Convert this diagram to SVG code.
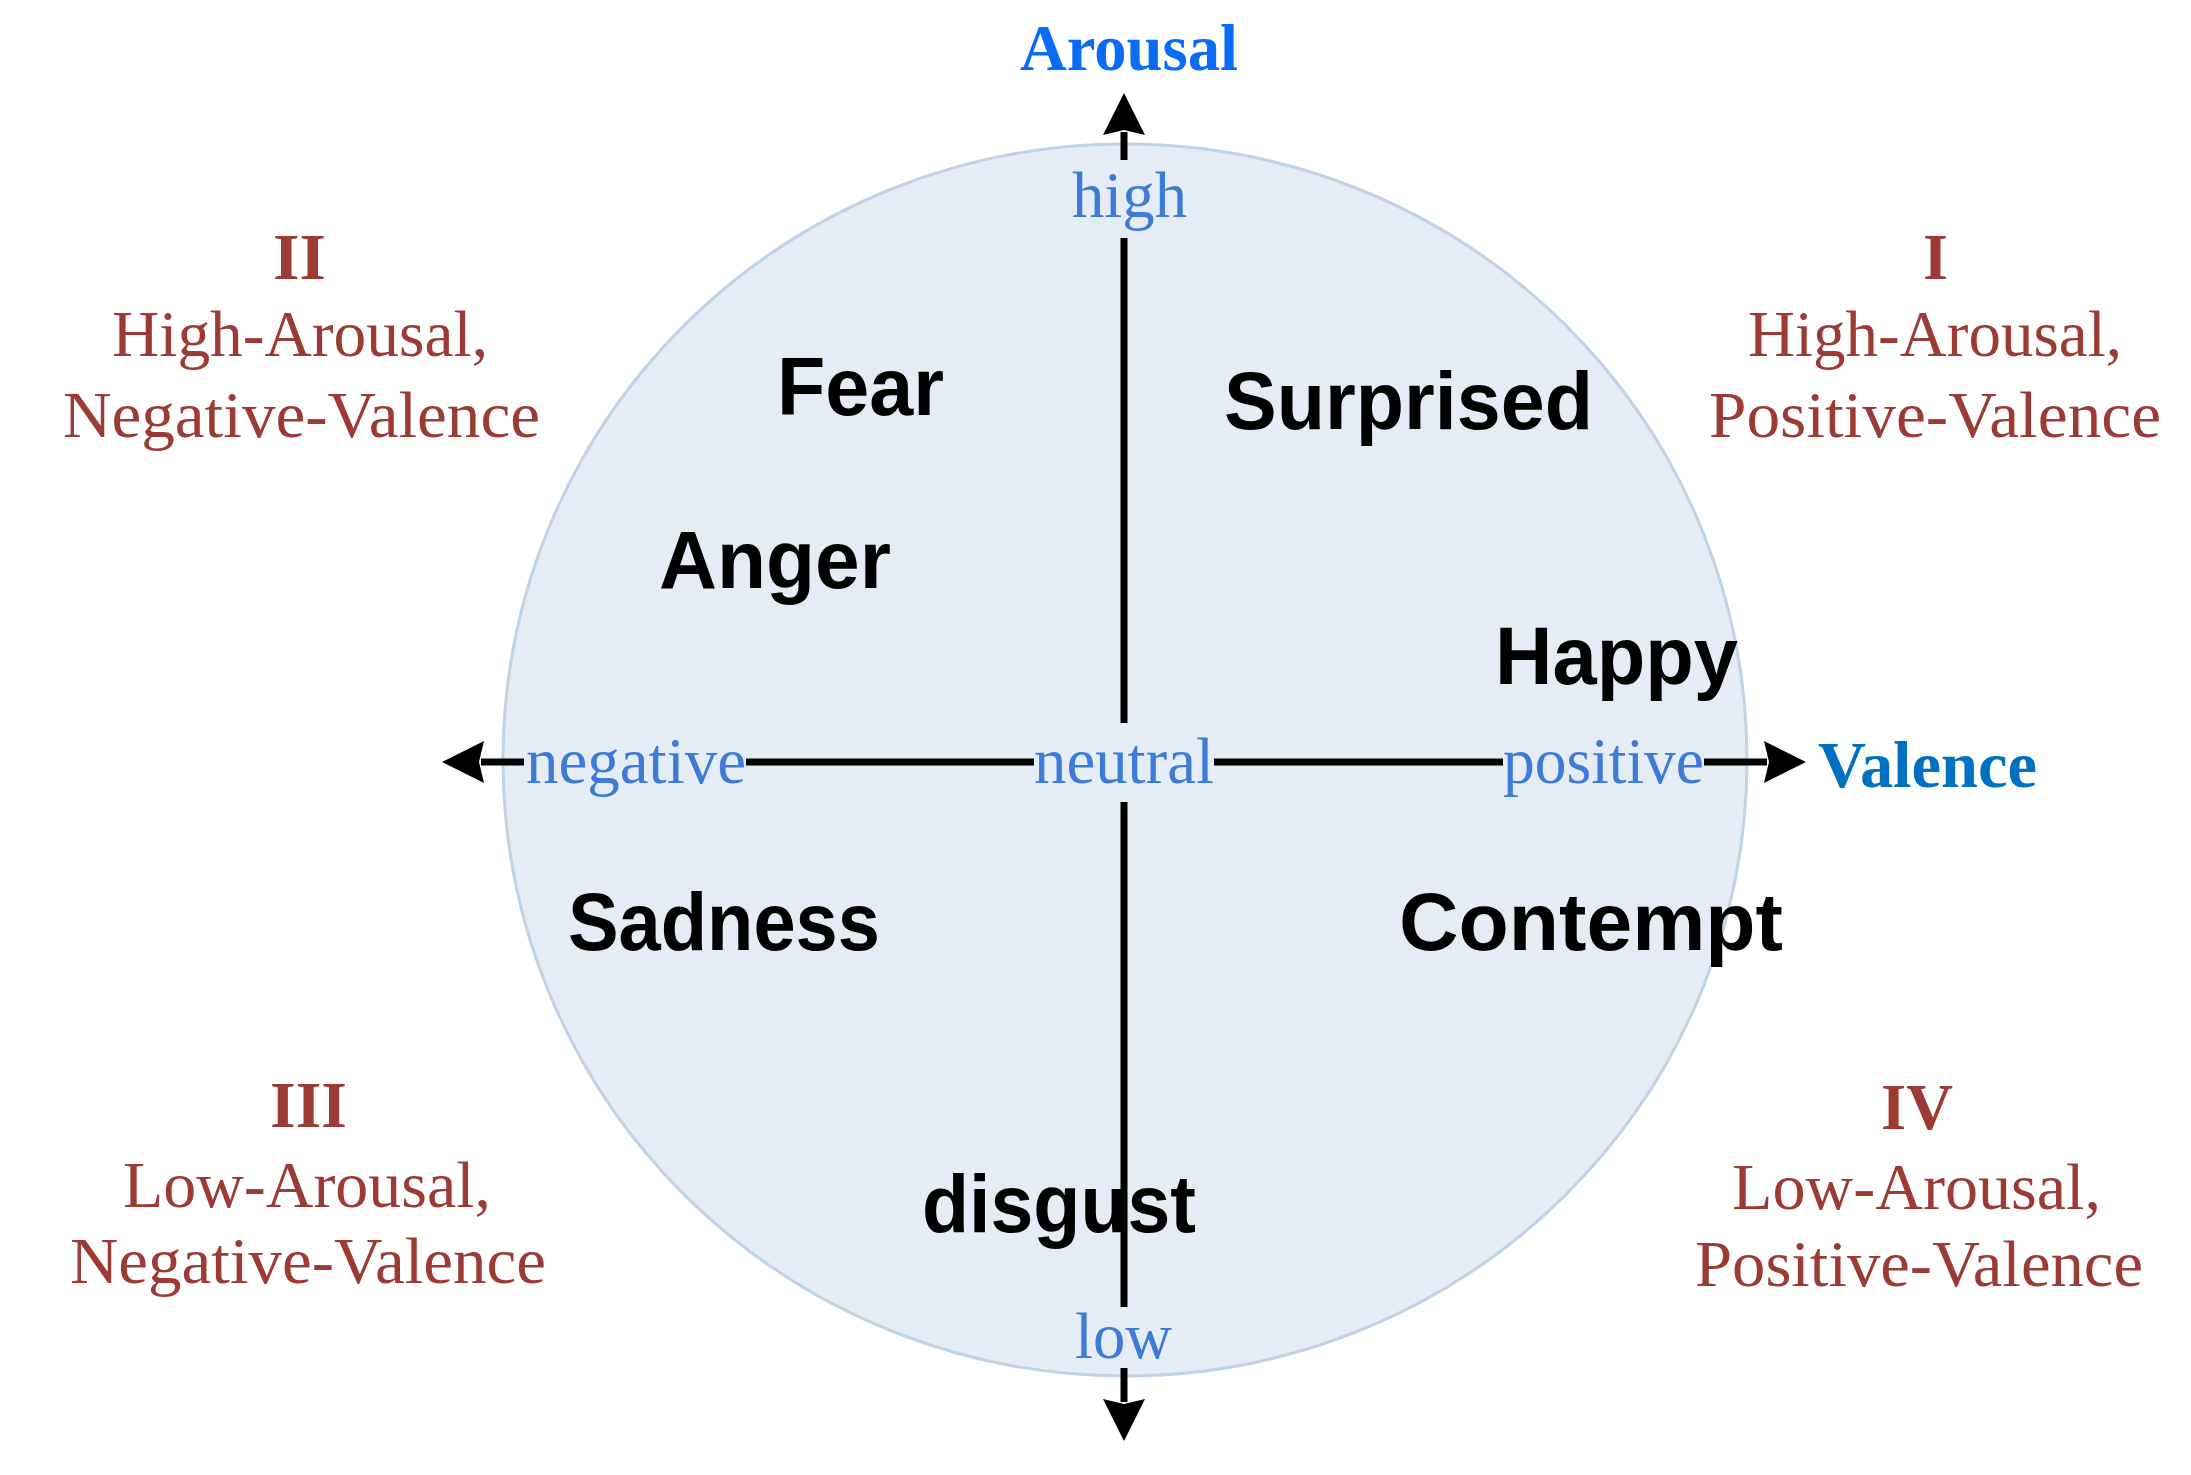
<svg xmlns="http://www.w3.org/2000/svg" width="2191" height="1475" viewBox="0 0 2191 1475">
<style>
.emo{font-family:"Liberation Sans",Arial,sans-serif;font-weight:bold;font-size:81px;fill:#000}
.quad{font-family:"Liberation Serif","Times New Roman",serif;font-size:66px;fill:#9c3b33}
.num{font-family:"Liberation Serif","Times New Roman",serif;font-size:66px;font-weight:bold;fill:#9c3b33}
.lbl{font-family:"Liberation Serif","Times New Roman",serif;font-size:65px;fill:#3d7bd8}
.axt{font-family:"Liberation Serif","Times New Roman",serif;font-size:66px;font-weight:bold}
.ax{stroke:#000;stroke-width:7;fill:none}
</style>
<defs>
<marker id="ah" viewBox="0 -21 42 42" refX="3" refY="0" markerWidth="42" markerHeight="42" markerUnits="userSpaceOnUse" orient="auto">
<path d="M0,-21 L42,0 L0,21 L5,0 z" fill="#000"/>
</marker>
</defs>
<rect width="2191" height="1475" fill="#fff"/>
<g id="circle">
<ellipse cx="1125" cy="760" rx="622" ry="616" fill="#e5ecf6" stroke="#bfd2e6" stroke-width="3"/>
</g>
<g id="fear"><text class="emo" x="777" y="415" textLength="167" lengthAdjust="spacingAndGlyphs">Fear</text></g>
<g id="anger"><text class="emo" x="659" y="588" textLength="232" lengthAdjust="spacingAndGlyphs">Anger</text></g>
<g id="surprised"><text class="emo" x="1224" y="429" textLength="369" lengthAdjust="spacingAndGlyphs">Surprised</text></g>
<g id="happy"><text class="emo" x="1495" y="684" textLength="243" lengthAdjust="spacingAndGlyphs">Happy</text></g>
<g id="sadness"><text class="emo" x="568" y="950" textLength="312" lengthAdjust="spacingAndGlyphs">Sadness</text></g>
<g id="contempt"><text class="emo" x="1399" y="950" textLength="384" lengthAdjust="spacingAndGlyphs">Contempt</text></g>
<g id="disgust"><text class="emo" x="922" y="1232" textLength="274" lengthAdjust="spacingAndGlyphs">disgust</text></g>
<g id="axes">
<path class="ax" d="M1124,160 L1124,132" marker-end="url(#ah)"/>
<path class="ax" d="M1124,238 L1124,723"/>
<path class="ax" d="M1124,802 L1124,1307"/>
<path class="ax" d="M1124,1368 L1124,1402" marker-end="url(#ah)"/>
<path class="ax" d="M524,762 L481,762" marker-end="url(#ah)"/>
<path class="ax" d="M746,762 L1034,762"/>
<path class="ax" d="M1214,762 L1503,762"/>
<path class="ax" d="M1704,762 L1767,762" marker-end="url(#ah)"/>
</g>
<g id="axis-labels">
<text class="axt" x="1020" y="70" fill="#0a6cf5" textLength="218" lengthAdjust="spacingAndGlyphs">Arousal</text>
<text class="axt" x="1818" y="787" fill="#0070c0" textLength="219" lengthAdjust="spacingAndGlyphs">Valence</text>
<text class="lbl" x="1072" y="217" textLength="115" lengthAdjust="spacingAndGlyphs">high</text>
<text class="lbl" x="1075" y="1358" textLength="97" lengthAdjust="spacingAndGlyphs">low</text>
<text class="lbl" x="526" y="783" textLength="220" lengthAdjust="spacingAndGlyphs">negative</text>
<text class="lbl" x="1034" y="783" textLength="180" lengthAdjust="spacingAndGlyphs">neutral</text>
<text class="lbl" x="1503" y="783" textLength="201" lengthAdjust="spacingAndGlyphs">positive</text>
</g>
<g id="quadrant-II">
<text class="num" x="273" y="279" textLength="53" lengthAdjust="spacingAndGlyphs">II</text>
<text class="quad" x="112" y="356" textLength="376" lengthAdjust="spacingAndGlyphs">High-Arousal,</text>
<text class="quad" x="63" y="437" textLength="477" lengthAdjust="spacingAndGlyphs">Negative-Valence</text>
</g>
<g id="quadrant-I">
<text class="num" x="1923" y="279" textLength="25" lengthAdjust="spacingAndGlyphs">I</text>
<text class="quad" x="1748" y="356" textLength="374" lengthAdjust="spacingAndGlyphs">High-Arousal,</text>
<text class="quad" x="1709" y="437" textLength="452" lengthAdjust="spacingAndGlyphs">Positive-Valence</text>
</g>
<g id="quadrant-III">
<text class="num" x="270" y="1127" textLength="77" lengthAdjust="spacingAndGlyphs">III</text>
<text class="quad" x="123" y="1207" textLength="368" lengthAdjust="spacingAndGlyphs">Low-Arousal,</text>
<text class="quad" x="70" y="1283" textLength="476" lengthAdjust="spacingAndGlyphs">Negative-Valence</text>
</g>
<g id="quadrant-IV">
<text class="num" x="1881" y="1129" textLength="72" lengthAdjust="spacingAndGlyphs">IV</text>
<text class="quad" x="1732" y="1209" textLength="369" lengthAdjust="spacingAndGlyphs">Low-Arousal,</text>
<text class="quad" x="1695" y="1286" textLength="448" lengthAdjust="spacingAndGlyphs">Positive-Valence</text>
</g>
</svg>
